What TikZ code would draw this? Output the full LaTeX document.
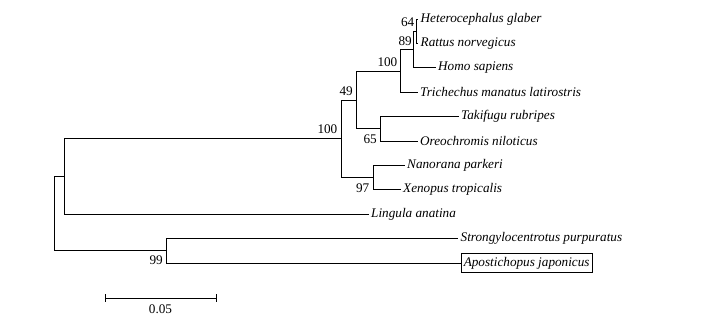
\documentclass[tikz,border=0pt]{standalone}
\usepackage{fontspec}
\setmainfont{Liberation Serif}
\begin{document}
\begin{tikzpicture}[x=1pt,y=-1pt,
  br/.style={draw=black,line width=0.7pt},
  txt/.style={font=\fontsize{13.2}{15}\selectfont},
  leaf/.style={txt,anchor=west,inner xsep=2.5pt,inner ysep=0pt,font=\fontsize{13.2}{15}\selectfont\itshape},
  bsa/.style={txt,anchor=south east,inner sep=0pt},
  bsb/.style={txt,anchor=north east,inner sep=0pt}]
\useasboundingbox (0,0) rectangle (701,322);
% internal nodes
\coordinate (root)  at (54,213.6);
\coordinate (nA)    at (64,176.5);
\coordinate (n99)   at (166,250.8);
\coordinate (n100a) at (341,138.7);
\coordinate (n49)   at (356,99.9);
\coordinate (n100b) at (400,70.9);
\coordinate (n89)   at (413.5,49.5);
\coordinate (n64)   at (416,31.2);
\coordinate (n65)   at (380,128.8);
\coordinate (n97)   at (373,177.6);
% leaves
\node[leaf] (het) at (418,19)    {Heterocephalus glaber};
\node[leaf] (rat) at (418,43.4)  {Rattus norvegicus};
\node[leaf] (hom) at (435.5,67.8){Homo sapiens};
\node[leaf] (tri) at (417.5,92.2){Trichechus manatus latirostris};
\node[leaf] (tak) at (458.5,116.6){Takifugu rubripes};
\node[leaf] (ore) at (417.5,141) {Oreochromis niloticus};
\node[leaf] (nan) at (404.5,165.4){Nanorana parkeri};
\node[leaf] (xen) at (400.5,189.8){Xenopus tropicalis};
\node[leaf] (lin) at (368.5,214.2){Lingula anatina};
\node[leaf] (str) at (458,238.6) {Strongylocentrotus purpuratus};
\node[leaf,draw=black,line width=0.6pt,inner xsep=2.5pt,minimum height=19pt] (apo) at (461,263) {Apostichopus japonicus};
% branches
\draw[br] (root) |- (nA);
\draw[br] (root) |- (n99);
\draw[br] (nA) |- (n100a);
\draw[br] (nA) |- (lin.west);
\draw[br] (n99) |- (str.west);
\draw[br] (n99) |- (apo.west);
\draw[br] (n100a) |- (n49);
\draw[br] (n100a) |- (n97);
\draw[br] (n49) |- (n100b);
\draw[br] (n49) |- (n65);
\draw[br] (n100b) |- (n89);
\draw[br] (n100b) |- (tri.west);
\draw[br] (n89) |- (n64);
\draw[br] (n89) |- (hom.west);
\draw[br] (n64) |- (het.west);
\draw[br] (n64) |- (rat.west);
\draw[br] (n65) |- (tak.west);
\draw[br] (n65) |- (ore.west);
\draw[br] (n97) |- (nan.west);
\draw[br] (n97) |- (xen.west);
% bootstrap values
\node[bsa] (b64)   at ([xshift=-1.5pt,yshift=4pt]n64) {64};
\node[bsa] (b89)   at ([xshift=-1.5pt,yshift=3.5pt]n89) {89};
\node[bsa] (b100b) at ([xshift=-2.5pt,yshift=4.5pt]n100b) {100};
\node[bsa] (b49)   at ([xshift=-3pt,yshift=4.5pt]n49) {49};
\node[bsa] (b100a) at ([xshift=-3.5pt,yshift=5pt]n100a) {100};
\node[bsb] (b65)   at ([xshift=-3pt,yshift=-5.5pt]n65) {65};
\node[bsb] (b97)   at ([xshift=-3.5pt,yshift=-6pt]n97) {97};
\node[bsb] (b99)   at ([xshift=-3pt,yshift=-4.5pt]n99) {99};
% scale bar
\coordinate (sbL) at (105,298);
\coordinate (sbR) at (216,298);
\draw[br] (sbL) -- (sbR);
\draw[br] ([yshift=4pt]sbL) -- ([yshift=-4pt]sbL);
\draw[br] ([yshift=4pt]sbR) -- ([yshift=-4pt]sbR);
\node[txt,inner sep=0pt] (sblab) at (160.5,309) {0.05};
\end{tikzpicture}
\end{document}
